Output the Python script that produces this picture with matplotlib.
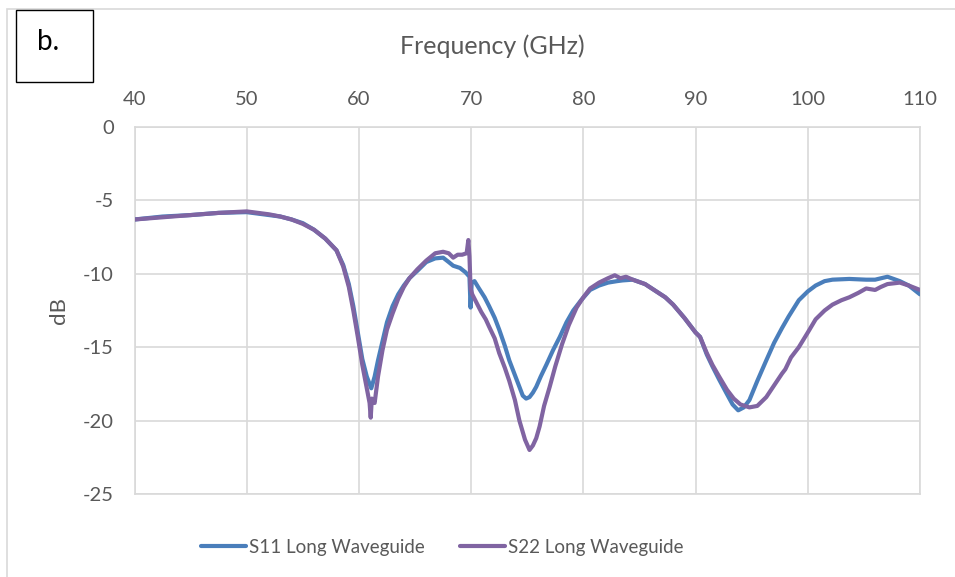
import matplotlib.pyplot as plt
from matplotlib.patches import Rectangle

# S11 long waveguide
f_s11 = [40, 42.5, 45, 47.5, 50, 52, 53, 54, 55, 56, 57, 58, 58.6, 59.1, 59.5,
         59.9, 60.3, 60.7, 61.1, 61.4, 61.7, 62.1, 62.5, 63.0, 63.5, 64.0, 64.5,
         65.2, 66.0, 66.8, 67.5, 68.0, 68.4, 69.0, 69.5, 69.85, 69.95, 70.05,
         70.3, 70.7, 71.2, 71.6, 72.1, 72.5, 73.0, 73.4, 73.9, 74.3, 74.6, 74.9,
         75.2, 75.5, 75.8, 76.2, 76.7, 77.3, 77.9, 78.5, 79.1, 79.8, 80.6, 81.4,
         82.2, 83.0, 83.5, 84.4, 85.5, 86.5, 87.3, 88, 89, 90, 90.4, 91.0, 91.5,
         92.1, 92.8, 93.3, 93.8, 94.3, 94.8, 95.5, 96.3, 97.0, 97.7, 98.3, 99.2,
         100, 100.7, 101.5, 102.2, 103.7, 105.2, 106, 107.1, 108.2, 109, 110]
s11 = [-6.3, -6.1, -6.0, -5.85, -5.8, -6.0, -6.1, -6.3, -6.55, -7.0, -7.6, -8.4,
       -9.4, -10.7, -12.2, -14.0, -15.8, -17.0, -17.8, -17.0, -15.9, -14.6,
       -13.3, -12.2, -11.4, -10.8, -10.3, -9.8, -9.2, -8.95, -8.9, -9.2, -9.45,
       -9.6, -9.9, -10.2, -12.3, -10.6, -10.5, -11.0, -11.6, -12.2, -13.0,
       -13.8, -14.9, -15.9, -16.9, -17.7, -18.3, -18.5, -18.4, -18.1, -17.7,
       -17.0, -16.2, -15.2, -14.3, -13.3, -12.5, -11.8, -11.1, -10.8, -10.6,
       -10.5, -10.45, -10.4, -10.7, -11.2, -11.6, -12.1, -13.0, -14.0, -14.3,
       -15.5, -16.3, -17.2, -18.2, -18.9, -19.3, -19.1, -18.6, -17.3, -15.9,
       -14.7, -13.7, -12.9, -11.8, -11.2, -10.8, -10.5, -10.4, -10.35, -10.4,
       -10.4, -10.2, -10.5, -10.8, -11.4]

# S22 long waveguide
f_s22 = [40, 42.5, 45, 47.5, 50, 52, 53, 54, 55, 56, 57, 58, 58.6, 59.1, 59.5,
         59.9, 60.3, 60.7, 60.95, 61.05, 61.15, 61.4, 61.7, 62.1, 62.5, 63.0,
         63.5, 64.0, 64.5, 65.2, 66.0, 66.8, 67.5, 68.0, 68.4, 68.8, 69.2, 69.6,
         69.75, 69.85, 69.95, 70.1, 70.5, 70.9, 71.3, 71.6, 72.1, 72.5, 73.0,
         73.4, 73.9, 74.3, 74.8, 75.2, 75.5, 75.8, 76.1, 76.5, 77.0, 77.5, 78.1,
         78.7, 79.4, 80.0, 80.6, 81.4, 82.2, 82.8, 83.3, 83.8, 84.4, 85.5, 86.5,
         87.3, 88, 89, 90, 90.4, 91.0, 91.5, 92.1, 92.8, 93.4, 94.0, 94.8, 95.5,
         96.3, 97.0, 97.7, 98.0, 98.5, 99.2, 100.0, 100.7, 101.5, 102.2, 103.0,
         103.7, 104.5, 105.2, 106.0, 106.5, 107.1, 108.2, 109, 110]
s22 = [-6.3, -6.15, -6.0, -5.85, -5.75, -5.95, -6.1, -6.3, -6.6, -7.0, -7.6,
       -8.4, -9.5, -10.9, -12.5, -14.3, -16.2, -17.8, -18.8, -19.8, -18.5,
       -18.8, -17.0, -15.2, -13.8, -12.7, -11.7, -10.9, -10.3, -9.7, -9.1,
       -8.6, -8.5, -8.6, -8.9, -8.7, -8.7, -8.6, -7.7, -8.8, -11.0, -11.4,
       -12.0, -12.6, -13.1, -13.6, -14.4, -15.4, -16.4, -17.3, -18.6, -20.0,
       -21.3, -22.0, -21.7, -21.2, -20.4, -19.0, -17.7, -16.3, -14.8, -13.5,
       -12.3, -11.6, -11.0, -10.6, -10.3, -10.1, -10.3, -10.2, -10.4, -10.7,
       -11.2, -11.6, -12.1, -13.0, -14.0, -14.3, -15.4, -16.2, -17.0, -17.9,
       -18.5, -18.9, -19.1, -19.0, -18.4, -17.6, -16.8, -16.5, -15.7, -15.0,
       -14.0, -13.1, -12.5, -12.1, -11.8, -11.6, -11.3, -11.0, -11.1, -10.9,
       -10.7, -10.6, -10.8, -11.1]

x_ticks = [40, 50, 60, 70, 80, 90, 100, 110]
y_ticks = [0, -5, -10, -15, -20, -25]

plt.rcParams['font.family'] = ['Lato', 'DejaVu Sans']
plt.rcParams['axes.unicode_minus'] = False
grey_text = '#595959'
grid_col = '#D9D9D9'

fig = plt.figure(figsize=(9.55, 5.77), dpi=100)
ax = fig.add_axes([134.5 / 955, 1 - 494 / 577, (920 - 134.5) / 955, (494 - 127) / 577])

ax.plot(f_s11, s11, color='#4A7EBB', lw=3.0, label='S11 Long Waveguide',
        solid_capstyle='round', zorder=3)
ax.plot(f_s22, s22, color='#8064A2', lw=3.0, label='S22 Long Waveguide',
        solid_capstyle='round', zorder=4)

ax.set_xlim(40, 110)
ax.set_ylim(-25, 0)
ax.set_xticks(x_ticks)
ax.set_yticks(y_ticks)
ax.xaxis.tick_top()
ax.xaxis.set_label_position('top')
ax.tick_params(length=0, labelsize=14.5, colors=grey_text)
ax.tick_params(axis='x', pad=14)
ax.tick_params(axis='y', pad=15)
ax.set_xlabel('Frequency (GHz)', fontsize=18, color=grey_text, va='center')
ax.xaxis.set_label_coords((492.5 - 134.5) / 785.5, (494 - 46) / 367)
ax.set_ylabel('dB', fontsize=16, color=grey_text, labelpad=10)
ax.grid(True, color=grid_col, lw=1.2)
ax.set_axisbelow(True)
for s in ax.spines.values():
    s.set_color(grid_col)
    s.set_linewidth(1.2)

ax.legend(loc='center', bbox_to_anchor=(442 / 955, 1 - 547 / 577),
          bbox_transform=fig.transFigure, ncol=2, frameon=False,
          fontsize=13.5, labelcolor=grey_text, handlelength=2.4,
          handletextpad=0.15, columnspacing=1.9)

# outer chart border and panel label
fig.patches.append(Rectangle((7 / 955, -0.01), 1.0, 1 - 9 / 577 + 0.01,
                             transform=fig.transFigure, fill=False,
                             edgecolor=grid_col, lw=1.2))
fig.patches.append(Rectangle((16 / 955, 1 - 82 / 577), 77 / 955, 72 / 577,
                             transform=fig.transFigure, fill=False,
                             edgecolor='black', lw=1.0))
fig.text(48 / 955, 1 - 42 / 577, 'b.', fontsize=20, ha='center', va='center')

plt.savefig('out.png', format='png')
